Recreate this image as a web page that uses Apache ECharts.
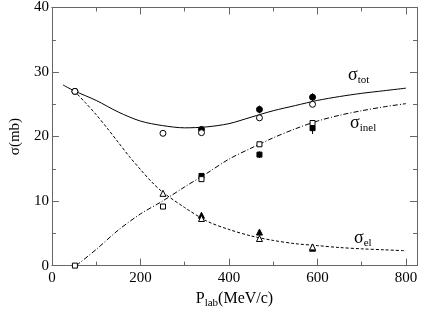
<!DOCTYPE html>
<html><head><meta charset="utf-8">
<script src="https://cdn.jsdelivr.net/npm/echarts@6/dist/echarts.min.js"></script>
<style>html,body{margin:0;padding:0;background:#fff}#c{width:421px;height:314px}</style>
</head><body><div id="c"></div>
<script>
// Curves (theory)
const totP = [25, 50, 100, 150, 200, 250, 300, 350, 400, 450, 500, 550, 600, 650, 700, 750, 800];
const totV = [28, 27.1, 25.6, 23.8, 22.4, 21.7, 21.35, 21.5, 22.0, 23.0, 24.0, 24.8, 25.6, 26.2, 26.7, 27.1, 27.5];
const inelP = [55, 100, 150, 200, 250, 300, 350, 400, 450, 500, 550, 600, 650, 700, 750, 800];
const inelV = [0, 2.5, 5.5, 8, 10, 12.2, 14.3, 16.5, 18.2, 19.8, 21.2, 22.4, 23.3, 24.0, 24.6, 25.1];
const elP = [50, 75, 100, 125, 150, 175, 200, 225, 250, 300, 350, 400, 450, 500, 550, 600, 650, 700, 750, 800];
const elV = [27.1, 25.3, 23.4, 21.3, 19.1, 16.9, 14.9, 13.0, 11.4, 9.0, 6.9, 5.6, 4.6, 3.9, 3.4, 3.1, 2.8, 2.6, 2.45, 2.3];
// Data points
const openCircP = [52, 251, 338, 469, 589];
const openCircV = [27, 20.5, 20.6, 22.9, 25.0];
const fillCircP = [52, 338, 469, 589];
const fillCircV = [27, 21.1, 24.2, 26.1];
const openSqP = [52, 251, 338, 469, 589];
const openSqV = [0, 9.15, 13.4, 18.8, 22.1];
const fillSqP = [338, 469, 589];
const fillSqV = [13.9, 17.2, 21.3];
const openTriP = [251, 338, 469, 589];
const openTriV = [11.2, 7.3, 4.2, 2.9];
const fillTriP = [338, 469, 589];
const fillTriV = [7.8, 5.2, 2.7];
const errP = [338, 469, 589, 338, 469, 589, 469, 589];
const errV = [21.1, 24.2, 26.1, 13.9, 17.2, 21.3, 5.2, 2.7];
const errE = [0.5, 0.6, 0.6, 0.4, 0.5, 0.9, 0.3, 0.3];
const xTicks = [0, 200, 400, 600, 800];
const yTicks = [0, 10, 20, 30, 40];

const zip = (a, b) => a.map((v, i) => [v, b[i]]);
const font = 'Liberation Serif, Times New Roman, serif';
const fc = '#666';
const axCommon = () => ({
  axisLine: {show: true, onZero: false, lineStyle: {color: fc, width: 1}},
  axisTick: {show: true, inside: true, length: 7, lineStyle: {color: fc}},
  minorTick: {show: true, splitNumber: 2, length: 4, lineStyle: {color: fc}},
  splitLine: {show: false}
});
const chart = echarts.init(document.getElementById('c'), null, {renderer: 'canvas'});
function sc(P, V, sym, fill, size) {
  return {type: 'scatter', data: zip(P, V), symbol: sym, symbolSize: size,
    itemStyle: {color: fill, borderColor: '#000', borderWidth: 1, opacity: 1}, z: 5};
}
const lineS = (P, V, type) => ({type: 'line', data: zip(P, V), smooth: 0.3, symbol: 'none',
  lineStyle: {color: '#000', width: 1, type: type}});
chart.setOption({
  animation: false,
  grid: {left: 38, right: 4, top: 6, bottom: 40},
  xAxis: [
    Object.assign({type: 'value', min: 0, max: 825, interval: 200, position: 'bottom',
      name: '{a|P}{b|lab}{a|(MeV/c)}', nameLocation: 'middle', nameGap: 20,
      nameTextStyle: {rich: {a: {fontFamily: font, fontSize: 16, color: '#000'}, b: {fontFamily: font, fontSize: 11, color: '#000', padding: [10, 0, 0, 0]}}},
      axisLabel: {fontFamily: font, fontSize: 15, color: '#000', margin: 5, showMaxLabel: false,
        formatter: v => xTicks.includes(v) ? String(v) : ''}}, axCommon()),
    Object.assign({type: 'value', min: 0, max: 825, interval: 200, position: 'top',
      axisLabel: {show: false}}, axCommon())
  ],
  yAxis: [
    Object.assign({type: 'value', min: 0, max: 40, interval: 10, position: 'left',
      name: 'σ(mb)', nameLocation: 'middle', nameGap: 22,
      nameTextStyle: {fontFamily: font, fontSize: 15, color: '#000'},
      axisLabel: {fontFamily: font, fontSize: 15, color: '#000', margin: 3,
        formatter: v => yTicks.includes(v) ? String(v) : ''}}, axCommon()),
    Object.assign({type: 'value', min: 0, max: 40, interval: 10, position: 'right',
      axisLabel: {show: false}}, axCommon())
  ],
  series: [
    lineS(totP, totV, 'solid'),
    lineS(inelP, inelV, [5, 2, 1, 2]),
    lineS(elP, elV, [3, 2]),
    {type: 'custom', data: errP.map((p, i) => [p, errV[i] - errE[i], errV[i] + errE[i]]),
      renderItem: (params, api) => {
        const a = api.coord([api.value(0), api.value(1)]);
        const b = api.coord([api.value(0), api.value(2)]);
        return {type: 'line', shape: {x1: a[0], y1: a[1], x2: b[0], y2: b[1]}, style: {stroke: '#000', lineWidth: 1}};
      }, z: 4},
    sc(fillCircP, fillCircV, 'circle', '#000', 6),
    sc(openCircP, openCircV, 'circle', '#fff', 6),
    sc(fillSqP, fillSqV, 'rect', '#000', 5),
    sc(openSqP, openSqV, 'rect', '#fff', 5),
    sc(fillTriP, fillTriV, 'triangle', '#000', 6),
    sc(openTriP, openTriV, 'triangle', '#fff', 6)
  ],
  graphic: [
    {type: 'text', left: 348, top: 66, style: {text: '{a|σ}{b|tot}', rich: {a: {fontFamily: font, fontSize: 18, fill: '#000'}, b: {fontFamily: font, fontSize: 11, fill: '#000', padding: [10, 0, 0, 0]}}}},
    {type: 'text', left: 350, top: 114, style: {text: '{a|σ}{b|inel}', rich: {a: {fontFamily: font, fontSize: 18, fill: '#000'}, b: {fontFamily: font, fontSize: 11, fill: '#000', padding: [10, 0, 0, 0]}}}},
    {type: 'text', left: 354, top: 229, style: {text: '{a|σ}{b|el}', rich: {a: {fontFamily: font, fontSize: 18, fill: '#000'}, b: {fontFamily: font, fontSize: 11, fill: '#000', padding: [10, 0, 0, 0]}}}}
  ]
});
</script></body></html>
